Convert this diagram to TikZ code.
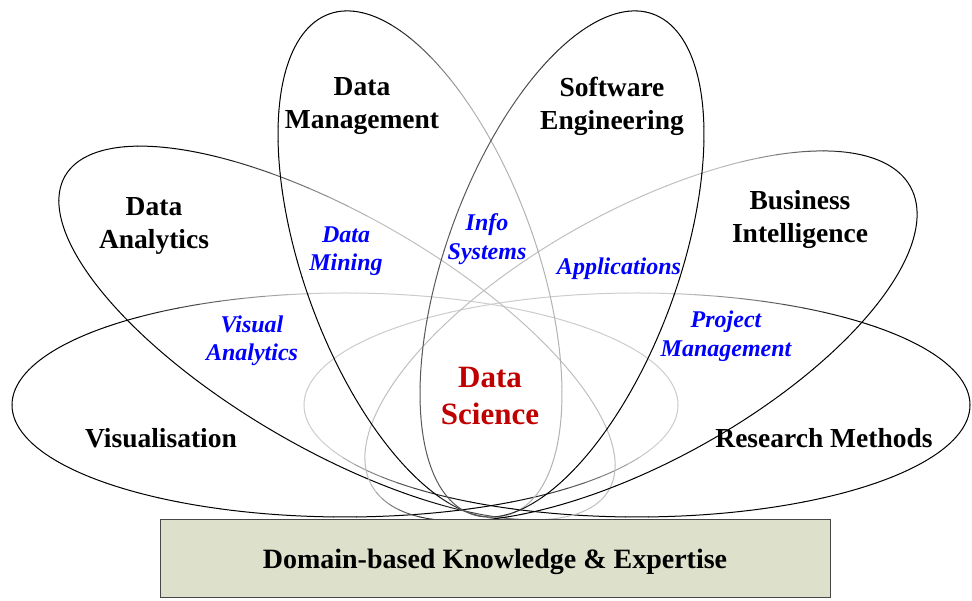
\documentclass[tikz,border=0pt]{standalone}
\usepackage{fontspec}
\setmainfont{Liberation Serif}
\definecolor{dsred}{RGB}{192,0,0}
\definecolor{dsblue}{RGB}{0,0,255}
\definecolor{basefill}{RGB}{221,224,203}
\definecolor{baseline}{RGB}{70,70,70}
\tikzset{
  petal line/.style={line width=1pt,line cap=round},
  area label/.style={font=\fontsize{27.5}{33}\selectfont\bfseries,align=center},
  overlap label/.style={font=\fontsize{24}{28.5}\selectfont\bfseries\itshape,text=dsblue,align=center},
  core label/.style={font=\fontsize{31}{37.5}\selectfont\bfseries,text=dsred,align=center},
  basebox/.style={draw=baseline,fill=basefill,line width=1pt,minimum width=670pt,minimum height=78pt,
    text depth=0pt,font=\fontsize{28}{33}\selectfont\bfseries}
}
% one petal: centre x, centre y, a, b, rotation, angle of lightest part, how light (percent)
\newcommand{\drawpetal}[7]{%
  \begin{scope}[shift={(#1,#2)},rotate=#5]
    \foreach \t in {0,4,...,356}{%
      \pgfmathsetmacro{\lite}{#7*min(1,max(0,(cos(\t+2-#6)+0.1)/0.6))}
      \draw[petal line,white!\lite!black] (\t:#3 and #4) arc[start angle=\t,end angle=\t+4,x radius=#3,y radius=#4];
    }
  \end{scope}}
\begin{document}
\begin{tikzpicture}[x=1pt,y=1pt]
  \useasboundingbox (0,0) rectangle (972,601);

  % the six petals
  \drawpetal{345}{196}{333}{112}{0}{35}{80}     % Visualisation
  \drawpetal{637}{196}{333}{112}{180}{-35}{80}  % Research Methods
  \drawpetal{337}{268}{314}{117}{-30}{35}{75}   % Data Analytics
  \drawpetal{641}{265}{308}{125}{-151}{-60}{75} % Business Intelligence
  \drawpetal{420}{337}{266}{116}{-70}{60}{70}   % Data Management
  \drawpetal{562}{337}{266}{116}{-110}{-60}{35} % Software Engineering

  \node[basebox] (base) at (495,42) {Domain-based Knowledge \& Expertise};

  \node[area label] (dm)  at (362,495) {Data\\Management};
  \node[area label] (se)  at (612,495) {Software\\Engineering};
  \node[area label] (da)  at (154,375) {Data\\Analytics};
  \node[area label] (bi)  at (800,381) {Business\\Intelligence};
  \node[area label] (vis) at (161,163) {Visualisation};
  \node[area label] (res) at (824,163) {Research Methods};

  \node[overlap label] (mining) at (346,350) {Data\\Mining};
  \node[overlap label] (info)   at (487,362) {Info\\Systems};
  \node[overlap label] (apps)   at (619,332) {Applications};
  \node[overlap label] (va)     at (252,260) {Visual\\Analytics};
  \node[overlap label] (pm)     at (726,265) {Project\\Management};

  \node[core label] (ds) at (490,205) {Data\\Science};
\end{tikzpicture}
\end{document}
